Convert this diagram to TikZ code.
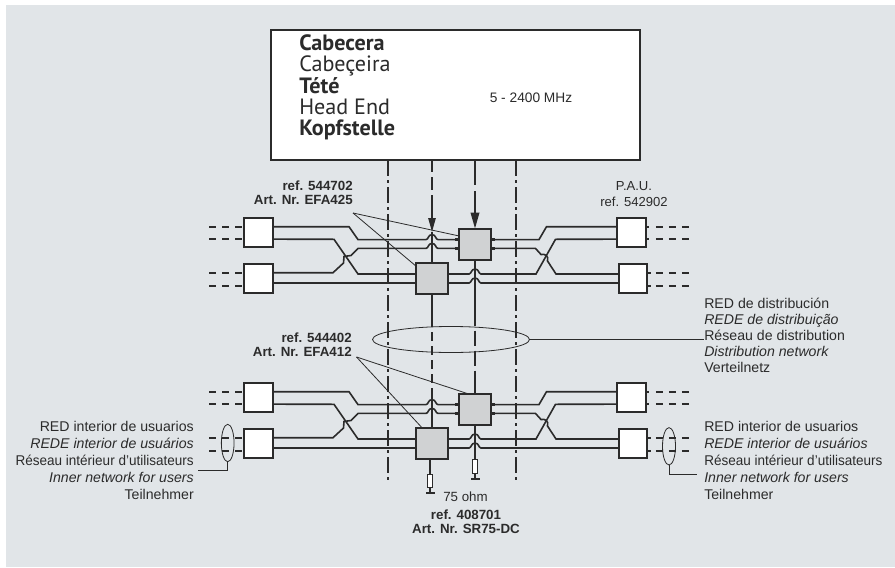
\documentclass[tikz,border=0pt]{standalone}
\usepackage{fontspec}
\setmainfont{Liberation Sans}
\newfontfamily\headfont{PT Sans}
\usetikzlibrary{arrows.meta,shapes.geometric}
\definecolor{panel}{HTML}{E1E5E8}
\definecolor{ink}{HTML}{2B2B2B}
\definecolor{splitgrey}{HTML}{D0D2D3}
\newcommand{\bump}[2]{-- (#1-6,#2) .. controls (#1-3.5,#2) and (#1-4,#2-5) .. (#1,#2-5) .. controls (#1+4,#2-5) and (#1+3.5,#2) .. (#1+6,#2)}
\newcommand{\snug}[1]{\scalebox{0.957}[1]{#1}}
\tikzset{
  pau/.style={draw=ink,fill=white,line width=1.5pt,minimum width=28.5*0.75pt,minimum height=28.5*0.75pt,inner sep=0,outer sep=0},
  splitter/.style={draw=ink,fill=splitgrey,line width=1.5pt,minimum width=31.5*0.75pt,minimum height=31*0.75pt,inner sep=0,outer sep=0},
  wire/.style={draw=ink,line width=1.2pt},
  stub/.style={draw=ink,line width=2pt},
  dashline/.style={draw=ink,line width=1.1pt,dash pattern=on 5.25pt off 4.5pt},
  axis/.style={draw=ink,line width=0.8pt,dash pattern=on 12pt off 3pt on 2.25pt off 3pt},
  leader/.style={draw=ink,line width=0.6pt},
  ring/.style={draw=ink,line width=0.6pt,ellipse,inner sep=0,outer sep=0},
  lab/.style={text=ink,font=\fontsize{10.6}{12.9}\selectfont,align=left,inner sep=0},
  reflab/.style={text=ink,font=\bfseries\fontsize{10}{10.2}\selectfont,align=right,inner sep=0},
  resist/.style={draw=ink,fill=white,line width=0.8pt,minimum width=5*0.75pt,minimum height=13.5*0.75pt,inner sep=0,outer sep=0},
  earth/.style={fill=ink,minimum width=9*0.75pt,minimum height=2*0.75pt,inner sep=0,outer sep=0},
}

\begin{document}
\begin{tikzpicture}[x=0.75pt,y=-0.75pt]
    \useasboundingbox (0,0) rectangle (895,567);
    \fill[panel] (6,5) rectangle (895,567);

    % head end
    \node[draw=ink,fill=white,line width=1.5pt,minimum width=369*0.75pt,minimum height=130*0.75pt,inner sep=0,outer sep=0] (head) at (455.5,95) {};
    \node[anchor=west,text=ink,inner sep=0,align=left,font=\headfont\fontsize{16.6}{15.9}\selectfont] (headtxt) at (299,87.5)
        {\textbf{Cabecera}\\Cabeçeira\\\textbf{Tété}\\Head End\\\textbf{Kopfstelle}};
    \node[lab,font=\fontsize{10.3}{12}\selectfont] (band) at (531,98) {5 - 2400 MHz};

    \foreach \g/\dy in {a/0,b/165}{
      \begin{scope}[shift={(0,\dy)}]
        \node[pau] (wla\g) at (258.5,232.5) {};
        \node[pau] (wlb\g) at (258.5,278.5) {};
        \node[pau] (wra\g) at (631.5,232.5) {};
        \node[pau] (wrb\g) at (633,278.5) {};
        \node[splitter] (spa\g) at (475,244) {};
        \node[splitter] (spb\g) at (432,278.5) {};

        % left side
        \draw[wire] ([yshift=4.3pt]wla\g.east) -- (349,226.7) -- (358,239.6) \bump{432}{239.6} -- ([yshift=3.3pt]spa\g.west);
        \draw[wire] ([yshift=-5pt]wla\g.east) -- (334,239.3) -- (358,274) -- ([yshift=3.4pt]spb\g.west);
        \draw[wire] ([yshift=4.3pt]wlb\g.east) -- (333,272.7) -- (343.5,263) -- (344,256.5) -- (351,255.5) -- (358,248.4) \bump{432}{248.4} -- ([yshift=-3.3pt]spa\g.west);
        \draw[wire] ([yshift=-3.4pt]wlb\g.east) -- ([yshift=-3.4pt]spb\g.west);

        % right side
        \draw[wire] ([yshift=3.3pt]spa\g.east) -- (539,239.6) -- (546.5,226.7) -- ([yshift=4.3pt]wra\g.west);
        \draw[wire] ([yshift=-3.3pt]spa\g.east) -- (535.5,248.4) -- (541,254.5) .. controls (545,253.5) and (549,256) .. (547.5,261) -- (556,274) -- ([yshift=3.4pt]wrb\g.west);
        \draw[wire] ([yshift=3.4pt]spb\g.east) \bump{475}{274} -- (536,274) -- (555.5,239.3) -- ([yshift=-5pt]wra\g.west);
        \draw[wire] ([yshift=-3.4pt]spb\g.east) \bump{475}{283} -- ([yshift=-3.4pt]wrb\g.west);

        % stubs at the splitters
        \foreach \s in {3.4,-3.4}{
          \draw[stub] ([yshift=\s pt]spa\g.west) -- ++(-4,0);
          \draw[stub] ([yshift=\s pt]spa\g.east) -- ++(4,0);
          \draw[stub] ([yshift=\s pt]spb\g.west) -- ++(-4,0);
          \draw[stub] ([yshift=\s pt]spb\g.east) -- ++(4,0);
        }

        % dashed ends
        \foreach \n/\s/\t in {wla/4.3/-5,wlb/4.3/-5.6}{
          \draw[dashline] ([xshift=-2pt,yshift=\s pt]\n\g.west) -- ++(-33.5,0);
          \draw[dashline] ([xshift=-2pt,yshift=\t pt]\n\g.west) -- ++(-33.5,0);
        }
        \foreach \n/\s/\t in {wra/4.3/-5,wrb/4.3/-5.6}{
          \draw[wire] ([yshift=\s pt]\n\g.east) -- ++(3.5,0);
          \draw[wire] ([yshift=\t pt]\n\g.east) -- ++(3.5,0);
        }
        \draw[dashline] ([xshift=7.5pt,yshift=4.3pt]wra\g.east) -- ++(33,0);
        \draw[dashline] ([xshift=7.5pt,yshift=-5pt]wra\g.east) -- ++(33,0);
        \draw[dashline] ([xshift=6.5pt,yshift=4.3pt]wrb\g.east) -- ++(33,0);
        \draw[dashline] ([xshift=6.5pt,yshift=-5.6pt]wrb\g.east) -- ++(33,0);
      \end{scope}
    }

    % feeders
    \coordinate (tipa) at (432,232);
    \draw[wire,dash pattern=on 9pt off 3.75pt on 10pt off 3.75pt on 30pt,-{Triangle[length=10.5pt,width=5.5pt]}] (head.south -| tipa) -- (tipa);
    \draw[wire] (tipa) -- (tipa |- spba.north);
    \draw[wire,dash pattern=on 18.75pt off 4.5pt on 40pt,-{Triangle[length=12pt,width=6.5pt]}] (head.south -| spaa.north) -- (spaa.north);
    \draw[wire,dash pattern=on 24.75pt off 3.75pt on 6.75pt off 3.75pt on 6.75pt off 3.75pt on 6.75pt off 3.75pt on 6.75pt off 3.75pt on 30pt] (spba.south) -- (spbb.north);
    \draw[wire,dash pattern=on 49.5pt off 3.75pt on 11.25pt off 3.75pt on 11.25pt off 3.75pt on 17.25pt] (spaa.south) -- (spab.north);

    % dash-dot limits
    \coordinate (axl) at (388,480);
    \coordinate (axr) at (516,480);
    \draw[axis] (head.south -| axl) -- (axl);
    \draw[axis] (head.south -| axr) -- (axr);

    % loads
    \node[resist] (ra) at (430,481) {};
    \node[earth] (ga) at (430,492.5) {};
    \node[resist] (rb) at (475,466.7) {};
    \node[earth] (gb) at (475,478.5) {};
    \draw[wire,line width=0.9pt] (spbb.south -| ra) -- (ra.north);
    \draw[wire,line width=0.9pt] (ra.south) -- (ga.north);
    \draw[wire] (spab.south) -- (rb.north);
    \draw[wire,line width=0.9pt] (rb.south) -- (gb.north);

    % networks
    \node[ring,minimum width=157*0.75pt,minimum height=26*0.75pt] (ringd) at (451,339.5) {};
    \node[ring,minimum width=12.7*0.75pt,minimum height=37.4*0.75pt] (ringl) at (227.7,443) {};
    \node[ring,minimum width=13*0.75pt,minimum height=37.4*0.75pt] (ringr) at (669,446.3) {};

    % labels
    \node[lab,anchor=west,font=\fontsize{10.6}{12}\selectfont] (disttxt) at (704,335) {RED de distribución\\\textit{REDE de distribuição}\\Réseau de distribution\\\textit{Distribution network}\\Verteilnetz};
    \node[lab,anchor=east,align=right] (usrl) at (194,460.5) {RED interior de usuarios\\\textit{REDE interior de usuários}\\\snug{Réseau intérieur d'utilisateurs}\\\textit{Inner network for users}\\Teilnehmer};
    \node[lab,anchor=west] (usrr) at (704,460.5) {RED interior de usuarios\\\textit{REDE interior de usuários}\\\snug{Réseau intérieur d'utilisateurs}\\\textit{Inner network for users}\\Teilnehmer};
    \node[reflab,anchor=east] (refa) at (353,192.5) {ref. 544702\\Art. Nr. EFA425};
    \node[reflab,anchor=east] (refb) at (352,345) {ref. 544402\\Art. Nr. EFA412};
    \node[reflab,align=center] (refc) at (466,522) {ref. 408701\\Art. Nr. SR75-DC};
    \node[lab,align=center,font=\fontsize{9.8}{12.4}\selectfont] (paulab) at (634,194) {P.A.U.\\ref. 542902};
    \node[lab,anchor=west,font=\fontsize{10}{12}\selectfont] (ohm) at (443,496.7) {75 ohm};

    % leaders
    \coordinate (refapt) at (353,213);
    \coordinate (refbpt) at (356.5,357);
    \coordinate (usrlpt) at (198,470.3);
    \coordinate (usrrpt) at (697,474.7);
    \draw[leader] (refapt) -- ([yshift=6pt]spaa.west);
    \draw[leader] (refapt) -- ([yshift=-2.5pt]spba.north west);
    \draw[leader] (refbpt) -- ([xshift=6pt]spab.north west);
    \draw[leader] (refbpt) -- ([xshift=4.5pt]spbb.north west);
    \draw[leader] (ringd.east) -- (ringd.east -| disttxt.west);
    \draw[leader] (ringl.south) |- (usrlpt);
    \draw[leader] (ringr.south) |- (usrrpt);
\end{tikzpicture}
\end{document}
